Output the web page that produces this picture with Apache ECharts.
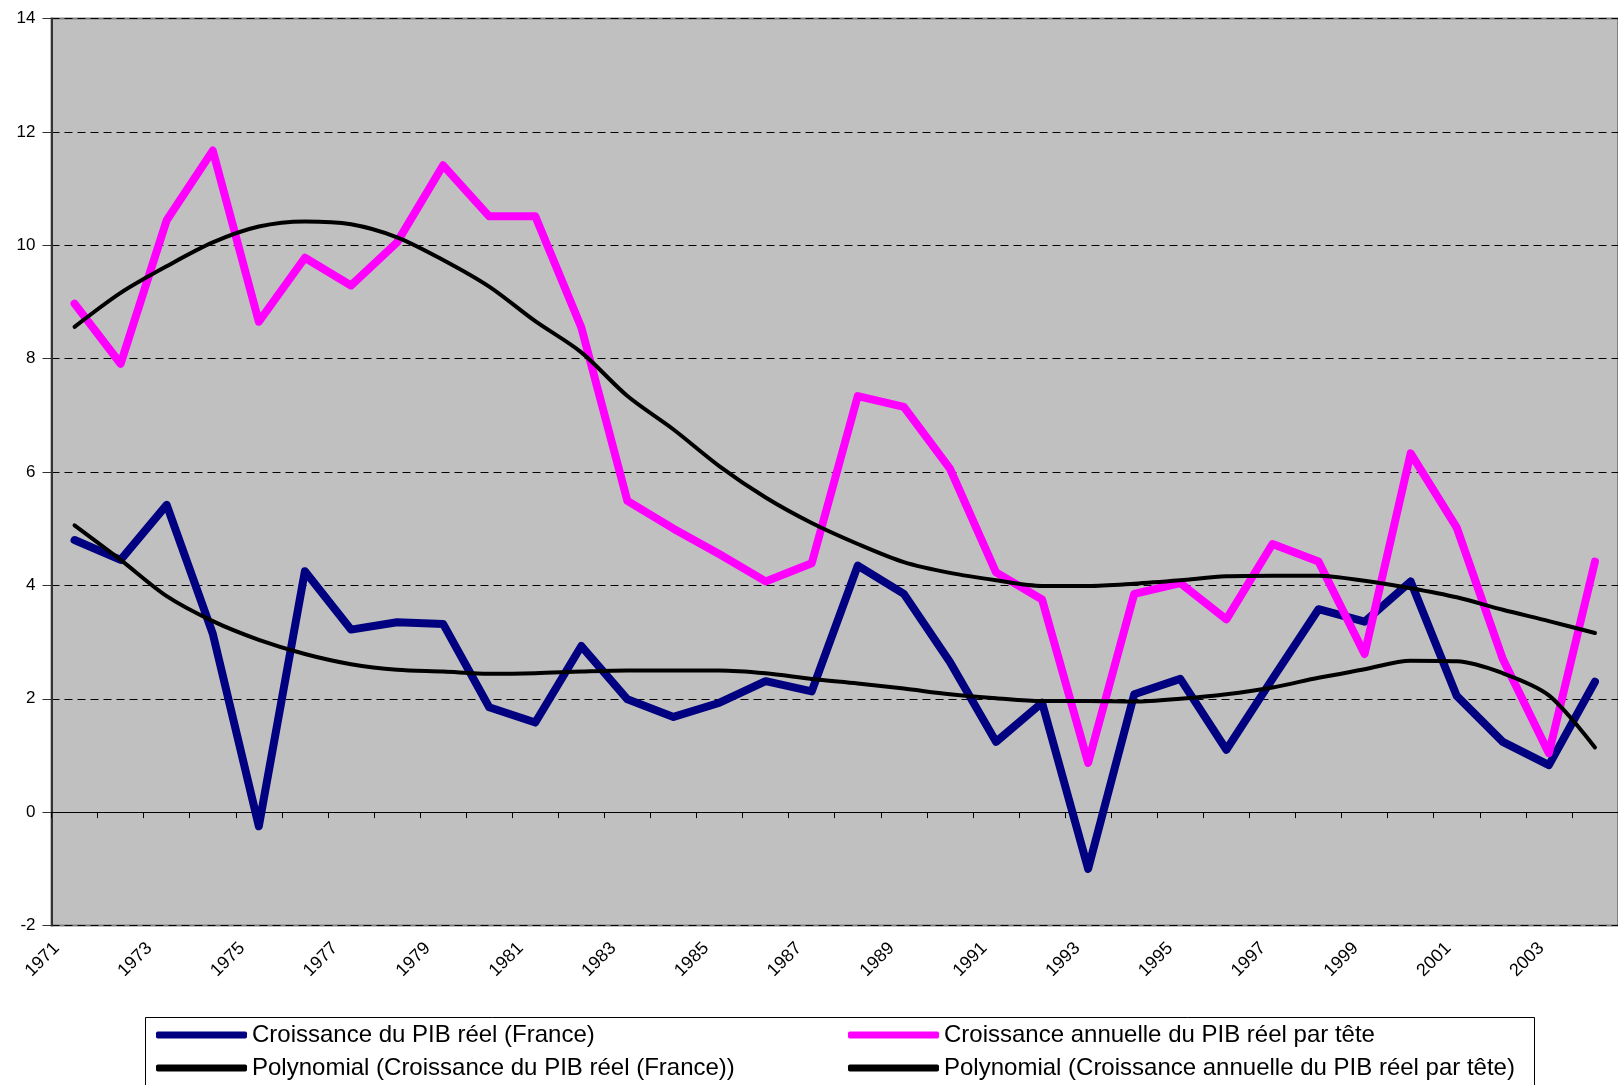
<!DOCTYPE html>
<html><head><meta charset="utf-8">
<script src="https://cdn.jsdelivr.net/npm/echarts@6/dist/echarts.min.js"></script>
<style>html,body{margin:0;padding:0;background:#fff}#c{width:1618px;height:1085px}</style>
</head><body><div id="c"></div>
<script>
const years = ['1971','1972','1973','1974','1975','1976','1977','1978','1979','1980',
  '1981','1982','1983','1984','1985','1986','1987','1988','1989','1990',
  '1991','1992','1993','1994','1995','1996','1997','1998','1999','2000',
  '2001','2002','2003','2004'];
const pibFrance = [4.8, 4.45, 5.42, 3.15, -0.25, 4.25, 3.22, 3.35, 3.32, 1.85,
  1.58, 2.93, 1.99, 1.68, 1.93, 2.31, 2.13, 4.35, 3.85, 2.65,
  1.24, 1.93, -1.0, 2.08, 2.35, 1.10, 2.35, 3.58, 3.36, 4.07,
  2.05, 1.24, 0.83, 2.30];
const pibParTete = [8.97, 7.91, 10.44, 11.67, 8.65, 9.78, 9.29, 10.05, 11.41, 10.51,
  10.51, 8.55, 5.49, 5.0, 4.55, 4.07, 4.39, 7.34, 7.15, 6.06,
  4.23, 3.75, 0.87, 3.85, 4.04, 3.40, 4.73, 4.42, 2.79, 6.33,
  5.02, 2.70, 1.04, 4.42];
const polyFrance = [5.06, 4.45, 3.81, 3.37, 3.04, 2.79, 2.61, 2.51, 2.48, 2.44,
  2.45, 2.48, 2.5, 2.5, 2.5, 2.45, 2.35, 2.27, 2.18, 2.08,
  2.01, 1.96, 1.96, 1.95, 2.0, 2.08, 2.2, 2.37, 2.52, 2.67,
  2.66, 2.45, 2.06, 1.14];
const polyParTete = [8.56, 9.16, 9.63, 10.05, 10.33, 10.42, 10.37, 10.14, 9.74, 9.27,
  8.66, 8.11, 7.34, 6.75, 6.1, 5.55, 5.1, 4.73, 4.41, 4.22,
  4.09, 3.99, 3.99, 4.03, 4.09, 4.16, 4.17, 4.17, 4.08, 3.95,
  3.79, 3.57, 3.37, 3.16];
const names = ['Croissance du PIB réel (France)', 'Croissance annuelle du PIB réel par tête',
  'Polynomial (Croissance du PIB réel (France))', 'Polynomial (Croissance annuelle du PIB réel par tête)'];

const font = '"Liberation Sans", Arial, sans-serif';
const chart = echarts.init(document.getElementById('c'), null, {renderer: 'canvas'});
function leg(name, left, top) {
  return {data: [name], left: left, top: top, padding: 0, icon: 'roundRect', itemWidth: 91, itemHeight: 7,
    selectedMode: false, textStyle: {fontSize: 24, fontFamily: font, color: '#000'}};
}
const option = {
  animation: false,
  backgroundColor: '#fff',
  graphic: [{type: 'rect', z: 0, shape: {x: 145.5, y: 1017.5, width: 1389, height: 100},
    style: {fill: '#fff', stroke: '#000', lineWidth: 1}}],
  legend: [leg(names[0], 156, 1023), leg(names[1], 848, 1023), leg(names[2], 156, 1056), leg(names[3], 848, 1056)],
  grid: [
    {left: 51.5, right: -11, top: 18.5, bottom: 159.5, show: true, backgroundColor: '#C0C0C0', borderColor: '#808080', borderWidth: 2},
    {left: 33.3, right: 7.2, top: 18.5, bottom: 159.5, show: false}
  ],
  xAxis: [
    {type: 'category', gridIndex: 0, data: years, position: 'top',
      axisLine: {show: true, onZero: true, lineStyle: {color: '#000', width: 1}},
      axisTick: {show: true, inside: true, length: 6, lineStyle: {color: '#000'}},
      axisLabel: {show: false}, splitLine: {show: false}},
    {type: 'category', gridIndex: 1, data: years, position: 'bottom',
      axisLine: {show: false, onZero: false}, axisTick: {show: false},
      axisLabel: {interval: 1, rotate: 45, fontSize: 18, color: '#000', fontFamily: font, margin: 20}}
  ],
  yAxis: [
    {type: 'value', gridIndex: 0, min: -2, max: 14, interval: 2,
      axisLine: {show: true, lineStyle: {color: '#333', width: 2}},
      axisTick: {show: true, length: 9, lineStyle: {color: '#333'}},
      axisLabel: {fontSize: 17, color: '#000', fontFamily: font, margin: 16},
      splitLine: {show: true, lineStyle: {color: '#000', type: [8, 5], width: 1}}},
    {type: 'value', gridIndex: 1, min: -2, max: 14, interval: 2, show: false}
  ],
  series: [
    {name: names[0], type: 'line', xAxisIndex: 0, yAxisIndex: 0, data: pibFrance, symbol: 'none', color: '#000080',
      lineStyle: {width: 8, color: '#000080', cap: 'round', join: 'round'}, z: 3},
    {name: names[1], type: 'line', xAxisIndex: 0, yAxisIndex: 0, data: pibParTete, symbol: 'none', color: '#FF00FF',
      lineStyle: {width: 8, color: '#FF00FF', cap: 'round', join: 'round'}, z: 3},
    {name: names[2], type: 'line', xAxisIndex: 0, yAxisIndex: 0, data: polyFrance, symbol: 'none', smooth: 0.3, color: '#000',
      lineStyle: {width: 4, color: '#000', cap: 'round', join: 'round'}, z: 4},
    {name: names[3], type: 'line', xAxisIndex: 0, yAxisIndex: 0, data: polyParTete, symbol: 'none', smooth: 0.3, color: '#000',
      lineStyle: {width: 4, color: '#000', cap: 'round', join: 'round'}, z: 4}
  ]
};
chart.setOption(option);
</script></body></html>
